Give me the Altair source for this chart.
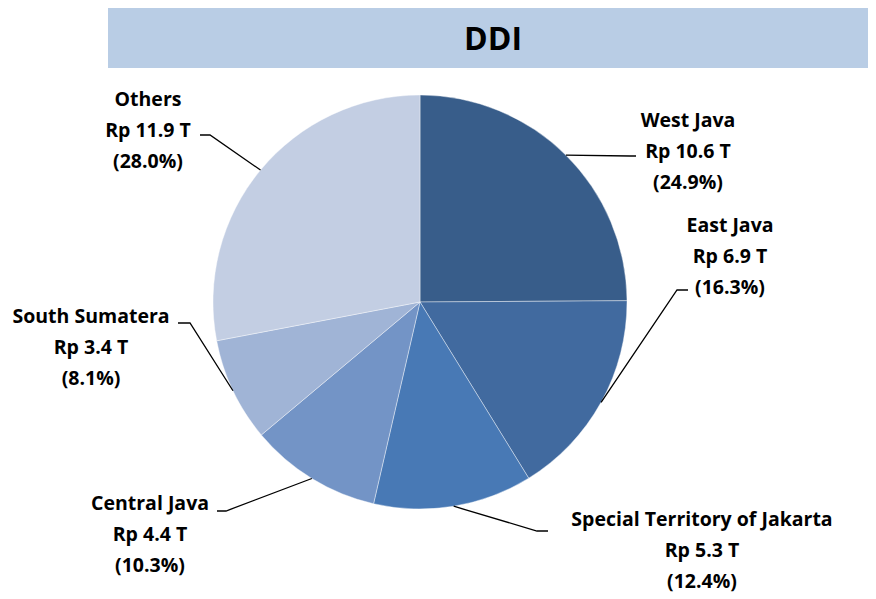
import math
import altair as alt
import pandas as pd

# ---- data ----
categories = ["West Java", "East Java", "Special Territory of Jakarta",
              "Central Java", "South Sumatera", "Others"]
values_rp = [10.6, 6.9, 5.3, 4.4, 3.4, 11.9]
shares = [24.9, 16.3, 12.4, 10.3, 8.1, 28.0]
colors = ["#385D8A", "#416A9F", "#4879B5", "#7394C6", "#A0B4D6", "#C3CEE3"]
title_text = "DDI"

# ---- layout (pixel positions in page coordinates) ----
OFF = 8
CX, CY, R = 420 - OFF, 302 - OFF, 207
label_x = [688, 730, 702, 150, 91, 148]
label_y = [127, 232, 526, 510, 323, 106]
elbow = [(630, 156), (677, 290), (537, 531), (226, 511), (190, 323), (210, 135)]
line_end = [(636, 156), (688, 290), (548, 531), (217, 511), (178, 323), (200, 135)]
FONT = "Open Sans"
W, H = 860, 590

pie_df = pd.DataFrame({
    "category": categories,
    "share": shares,
    "order": list(range(len(categories))),
})

# leader lines: start from slice mid-angle on the pie edge
rows = []
cum = 0.0
total = sum(shares)
for i, (c, s) in enumerate(zip(categories, shares)):
    mid = (cum + s / 2) / total * 2 * math.pi
    cum += s
    sx = CX + R * math.sin(mid)
    sy = CY - R * math.cos(mid)
    pts = [(sx, sy), (elbow[i][0] - OFF, elbow[i][1] - OFF),
           (line_end[i][0] - OFF, line_end[i][1] - OFF)]
    for k, (px, py) in enumerate(pts):
        rows.append({"category": c, "seq": k, "px": px, "py": py})
lines_df = pd.DataFrame(rows)

label_df = pd.DataFrame({
    "category": categories,
    "text": [f"{c}\nRp {v} T\n({s:.1f}%)" for c, v, s in zip(categories, values_rp, shares)],
    "px": [x - OFF for x in label_x],
    "py": [y - OFF for y in label_y],
})

pie = alt.Chart(pie_df).mark_arc(
    radius=R, stroke="white", strokeWidth=0.8, strokeOpacity=0.5
).encode(
    theta=alt.Theta("share:Q", stack=True),
    order=alt.Order("order:Q"),
    color=alt.Color("category:N", scale=alt.Scale(domain=categories, range=colors), legend=None),
    x=alt.value(CX),
    y=alt.value(CY),
)

leaders = alt.Chart(lines_df).mark_line(color="black", strokeWidth=1.3).encode(
    x=alt.X("px:Q", scale=None, axis=None),
    y=alt.Y("py:Q", scale=None, axis=None),
    detail="category:N",
    order="seq:Q",
)

labels = alt.Chart(label_df).mark_text(
    font=FONT, fontSize=19.5, fontWeight="bold", color="black",
    align="center", baseline="alphabetic", lineBreak="\n", lineHeight=31,
).encode(
    x=alt.X("px:Q", scale=None, axis=None),
    y=alt.Y("py:Q", scale=None, axis=None),
    text="text:N",
)

title_df = pd.DataFrame({"t": [title_text]})
title_bar = alt.Chart(title_df).mark_rect(color="#B9CDE5").encode(
    x=alt.value(108 - OFF), x2=alt.value(W),
    y=alt.value(0), y2=alt.value(68 - OFF),
)
title_lbl = alt.Chart(title_df).mark_text(
    font=FONT, fontSize=32, fontWeight="bold", color="black",
    align="center", baseline="alphabetic",
).encode(
    x=alt.value(493 - OFF), y=alt.value(50 - OFF), text="t:N",
)

chart = alt.layer(title_bar, title_lbl, pie, leaders, labels).properties(
    width=W, height=H, padding=0, autosize="none"
).configure_view(stroke=None)

chart.save("out.html", embed_options={"renderer": "svg", "actions": False})
